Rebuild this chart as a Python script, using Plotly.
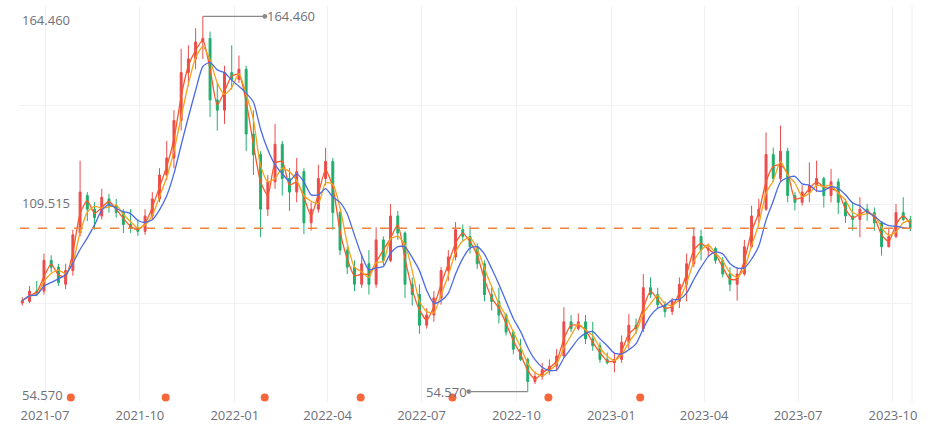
import pandas as pd
import plotly.graph_objects as go

# ---- data (weekly candles) ----
first_week = "2021-06-09"
open_ = [80.5, 81, 84, 84, 93, 91, 86, 90, 101, 112,
         108, 106, 111, 109, 107, 103.5, 102.5, 101.5, 106, 111,
         118, 123, 134, 148, 152, 157, 158, 140, 137, 148,
         146, 149, 130, 124, 108, 116, 127, 117, 113, 119,
         104, 108, 117, 122, 107, 96, 91, 86, 92, 86,
         99, 93, 106, 101, 86, 83, 74, 77, 82, 90,
         94, 102, 100, 97, 92, 83, 81, 77, 72, 67,
         64, 57.5, 59, 61, 62, 65, 75, 73, 75, 70,
         68, 64, 63, 64, 69, 74, 73, 85, 83, 80,
         78, 81, 86, 92, 100, 96, 96.5, 93, 89, 86,
         89, 97, 106, 108, 124, 117, 125, 112, 110, 113,
         115, 117, 112, 116, 110, 106, 105, 108, 107, 104,
         97, 100, 107, 105]
high = [82.2, 85.5, 87, 95, 94.5, 92, 92, 102, 122.2, 113,
        110, 114, 112.5, 111, 108, 108, 105, 108, 113, 120,
        128, 137, 155, 156, 161, 164.46, 160, 145, 150, 156,
        153, 150, 137, 125, 118, 133, 128, 120, 123, 120,
        110, 121, 126, 123, 107.5, 97, 93, 95, 96, 102.7,
        100, 109.5, 107.5, 101.5, 88, 86, 79, 84, 91, 96,
        104.2, 103.5, 103, 98, 93, 85, 85, 77.5, 72.5, 70,
        64.5, 60.5, 63, 64, 67, 79.3, 77, 77.5, 77, 75,
        69, 66, 66, 71, 77.3, 76, 89, 88, 85, 81,
        82, 88, 95, 102.7, 102, 98, 97, 94, 91, 91,
        99, 109, 111, 130.5, 126, 132.5, 126, 113, 115, 121.7,
        122.2, 117.5, 119.8, 117, 111, 110, 111.5, 109.5, 108.5, 104.5,
        102.5, 109.5, 111.5, 106]
low = [79.8, 80.5, 82.5, 83, 89.5, 85.5, 84.6, 88.5, 100, 104.5,
       102, 105, 107, 105.5, 101, 101, 100.2, 100.5, 105, 110,
       116.5, 120, 131, 144, 149, 152, 135, 131, 133, 143,
       145, 125, 118, 99.8, 106, 114, 112, 107.5, 110, 100.7,
       101.7, 107, 115, 102, 94.5, 89, 84, 85, 83, 85,
       91.5, 92.5, 99, 82, 79.8, 71.5, 73, 75, 80, 87,
       93, 98.5, 95, 90.5, 81, 78.3, 74.5, 71, 65.5, 63.5,
       54.57, 56.8, 58, 59.5, 60.5, 64.5, 72, 72.5, 68.5, 66.5,
       63, 62.5, 60.2, 63, 67, 71.5, 72, 82, 79, 76.3,
       77, 79, 81, 91, 93, 94, 92, 88, 84, 81.2,
       88.5, 96.5, 104, 107.5, 116, 116, 110, 107.6, 109, 110,
       113, 108.5, 110, 106.6, 104, 101.7, 99.8, 104.6, 101.7, 94.4,
       96.8, 99.5, 104.5, 101.6]
close = [81.2, 84, 83.5, 93, 91, 86.5, 90, 100.5, 113, 108,
         105.5, 111.5, 109, 107, 103.5, 102.5, 101.5, 106, 111, 118,
         123, 134, 148, 152, 157, 158, 140, 137, 148, 146,
         149, 130, 124, 108, 116, 127, 117, 113, 119, 104,
         108, 117, 122, 107, 96, 91, 86, 92, 86, 99,
         93, 106, 101, 86, 83, 74, 77, 82, 90, 94,
         102, 100, 97, 92, 83, 81, 77, 72, 67, 64,
         57.5, 59, 61, 62, 65, 75, 73, 75, 70, 68,
         64, 63, 64, 69, 74, 73, 85, 83, 80, 78,
         81, 86, 92, 100, 96, 96.5, 93, 89, 86, 89,
         97, 106, 108, 124, 117, 125, 112, 110, 113, 115,
         117, 112, 116, 110, 106, 105, 108, 107, 104, 97,
         100, 107, 105, 102.4]
event_dates = ["2021-07-26", "2021-10-26", "2022-01-30", "2022-05-03",
               "2022-07-31", "2022-11-01", "2023-01-29"]
x_range = ["2021-06-06 18:00", "2023-10-19 12:00"]

ma_windows = [2, 3, 5]
ma_colors = ["#f85a2a", "#f4a31c", "#4a6be6"]
UP, DOWN = "#eb4b4b", "#20ae6c"
GRAY = "#6e7079"
FONT = "Open Sans, Noto Sans, sans-serif"

dates = pd.date_range(first_week, periods=len(close), freq="7D")
s = pd.Series(close)

fig = go.Figure()
fig.add_trace(go.Candlestick(
    x=dates, open=open_, high=high, low=low, close=close,
    increasing=dict(line=dict(color=UP, width=1), fillcolor=UP),
    decreasing=dict(line=dict(color=DOWN, width=1), fillcolor=DOWN),
    whiskerwidth=0, showlegend=False, hoverinfo="skip"))

for w, c in zip(ma_windows, ma_colors):
    fig.add_trace(go.Scatter(
        x=dates, y=s.rolling(w, min_periods=1).mean(), mode="lines",
        line=dict(color=c, width=1.3, shape="spline", smoothing=0.6),
        showlegend=False, hoverinfo="skip"))

ymin, ymax = min(low), max(high)
ymid = (ymin + ymax) / 2
half = 58.0
y0, y1 = ymid - half, ymid + half

fig.add_trace(go.Scatter(
    x=pd.to_datetime(event_dates), y=[y0 + 1.3] * len(event_dates), mode="markers",
    marker=dict(color="#f4673b", size=8), cliponaxis=False,
    showlegend=False, hoverinfo="skip"))

# last close dashed line
fig.add_shape(type="line", xref="paper", x0=0, x1=1, yref="y", y0=close[-1], y1=close[-1],
              line=dict(color="#ee8340", width=1.5, dash="dash"), layer="above")

# y labels: min, mid, max
for val, shift in [(ymax, -4), (ymid, 1.5), (ymin, -3.5)]:
    fig.add_annotation(xref="paper", x=0, xanchor="left", y=val, yanchor="middle",
                       yshift=shift, text=f"{val:.3f}", showarrow=False,
                       font=dict(color=GRAY, size=13, family=FONT))

imax = high.index(ymax)
imin = low.index(ymin)
fig.add_annotation(x=dates[imax], y=ymax, ax=62, ay=0, xanchor="left", text=f"{ymax:.3f}",
                   showarrow=True, arrowcolor="#8a8a8a", arrowwidth=1.2,
                   arrowside="start", startarrowhead=6, startarrowsize=1,
                   font=dict(color=GRAY, size=13, family=FONT))
fig.add_annotation(x=dates[imin], y=ymin, ax=-59, ay=0, xanchor="right", text=f"{ymin:.3f}",
                   showarrow=True, arrowcolor="#8a8a8a", arrowwidth=1.2,
                   arrowside="start", startarrowhead=6, startarrowsize=1,
                   font=dict(color=GRAY, size=13, family=FONT))

fig.update_layout(
    width=944, height=436,
    margin=dict(l=20, r=32, t=6, b=34),
    paper_bgcolor="white", plot_bgcolor="white",
    boxgap=0.62,
    font=dict(family=FONT, color=GRAY, size=13),
    xaxis=dict(type="date", range=x_range, rangeslider=dict(visible=False),
               tick0="2021-07-01", dtick="M3", tickformat="%Y-%m",
               showgrid=True, gridcolor="#f1f1f3", gridwidth=1,
               showline=False, zeroline=False, ticks="",
               ticklabelstandoff=4,
               tickfont=dict(color=GRAY, size=13, family=FONT)),
    yaxis=dict(range=[y0, y1], tickvals=[y0 + k * (y1 - y0) / 4 for k in range(5)],
               showticklabels=False, showgrid=True, gridcolor="#f1f1f3", gridwidth=1,
               zeroline=False, showline=False, ticks=""),
)
fig.add_shape(type="line", xref="paper", x0=1, x1=1, yref="paper", y0=0, y1=1,
              line=dict(color="#eeeeee", width=1))

fig.write_html("out.html", config={"displayModeBar": False},
               post_script="document.body.style.margin='0';")
